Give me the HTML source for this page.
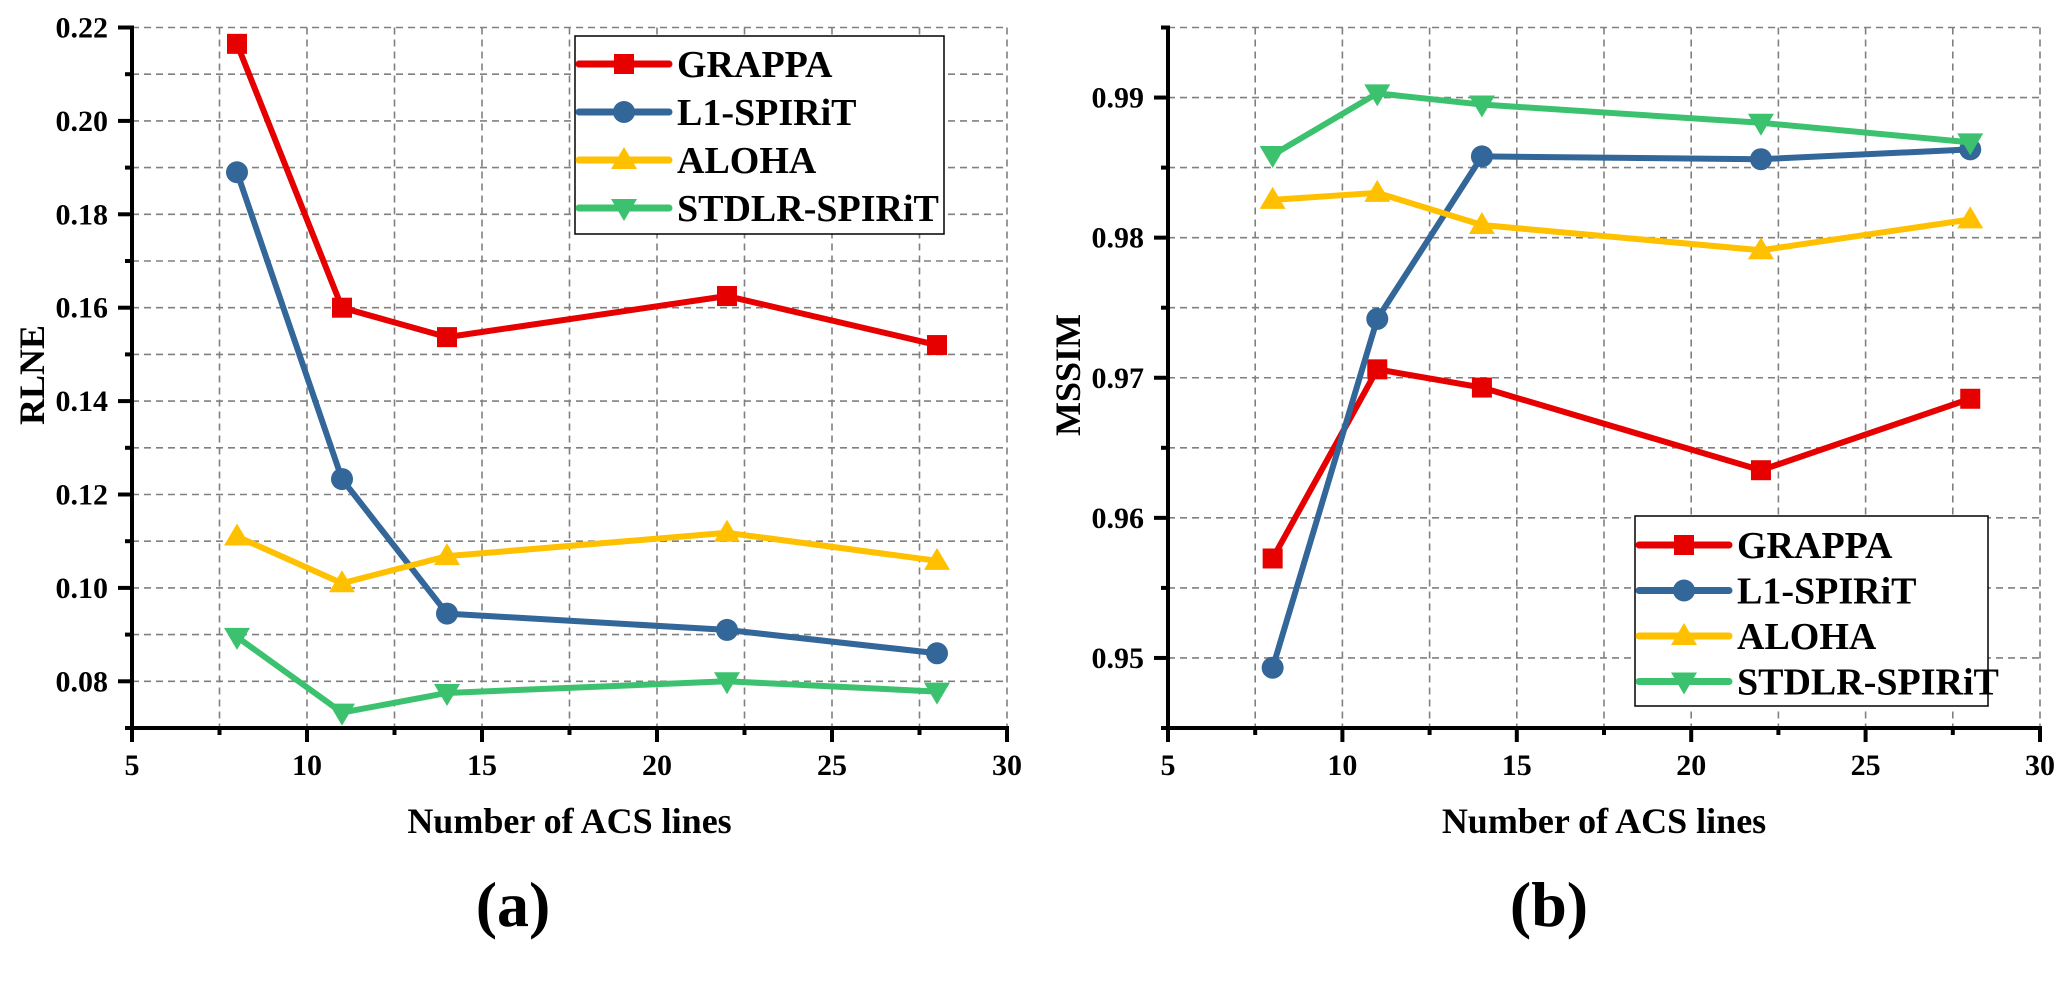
<!DOCTYPE html>
<html><head><meta charset="utf-8"><style>
html,body{margin:0;padding:0;background:#fff;}
svg{display:block;font-family:"Liberation Serif",serif;font-weight:bold;}
</style></head><body>
<svg id="svg" width="2072" height="981" viewBox="0 0 2072 981" xmlns="http://www.w3.org/2000/svg"></svg>
<script>
const xs = [8, 11, 14, 22, 28];
const seriesNames = ["GRAPPA", "L1-SPIRiT", "ALOHA", "STDLR-SPIRiT"];
const rlneGrappa = [0.2165, 0.160, 0.1537, 0.1625, 0.152];
const rlneL1 = [0.189, 0.1233, 0.0945, 0.091, 0.086];
const rlneAloha = [0.111, 0.101, 0.1068, 0.1118, 0.1058];
const rlneStdlr = [0.0895, 0.0733, 0.0775, 0.0800, 0.0778];
const ssimGrappa = [0.9571, 0.9706, 0.9693, 0.9634, 0.9685];
const ssimL1 = [0.9493, 0.9742, 0.9858, 0.9856, 0.9863];
const ssimAloha = [0.9827, 0.9832, 0.9809, 0.9791, 0.9813];
const ssimStdlr = [0.9859, 0.9903, 0.9895, 0.9882, 0.9868];
const xTicks = [5, 10, 15, 20, 25, 30];
const rlneTicks = [0.08, 0.10, 0.12, 0.14, 0.16, 0.18, 0.20, 0.22];
const ssimTicks = [0.95, 0.96, 0.97, 0.98, 0.99];

const NS = "http://www.w3.org/2000/svg";
const svg = document.getElementById('svg');
const colors = ["#e60000", "#336699", "#ffc000", "#3cc26e"];
const markers = ["square", "circle", "up", "down"];
function mk(tag, attrs, parent) {
  const e = document.createElementNS(NS, tag);
  for (const k in attrs) e.setAttribute(k, attrs[k]);
  (parent || svg).appendChild(e);
  return e;
}
function marker(g, type, x, y, c) {
  let e;
  if (type === "square") e = mk('rect', {x: x-10, y: y-10, width: 20, height: 20, fill: c}, g);
  else if (type === "circle") e = mk('circle', {cx: x, cy: y, r: 11, fill: c}, g);
  else if (type === "up") e = mk('polygon', {points: `${x},${y-13} ${x+13},${y+9} ${x-13},${y+9}`, fill: c}, g);
  else e = mk('polygon', {points: `${x},${y+13} ${x+13},${y-9} ${x-13},${y-9}`, fill: c}, g);
  
  
}
function chart(cfg) {
  const {x0, x1, yTop, yBot, dmin, dmax, ticks, minorStep, fmt, series, ytitle, panel, legend, name} = cfg;
  const g = mk('g', {});
  
  
  const X = v => x0 + (v - 5) / 25 * (x1 - x0);
  const Y = v => yBot - (v - dmin) / (dmax - dmin) * (yBot - yTop);
  const grid = mk('g', {stroke: '#808080', 'stroke-width': 1.6, 'stroke-dasharray': '7,5'}, g);
  
  
  for (let v = 7.5; v <= 30.01; v += 2.5) mk('line', {x1: X(v), x2: X(v), y1: yTop, y2: yBot}, grid);
  const nMinor = Math.round((dmax - dmin) / minorStep);
  for (let i = 1; i <= nMinor; i++) { const v = dmin + i * minorStep; mk('line', {x1: x0, x2: x1, y1: Y(v), y2: Y(v)}, grid); }
  const ax = mk('g', {stroke: '#000', 'stroke-width': 4}, g);
  
  
  mk('line', {x1: x0, x2: x0, y1: yTop - 2, y2: yBot + 2}, ax);
  mk('line', {x1: x0 - 2, x2: x1 + 2, y1: yBot, y2: yBot}, ax);
  for (let v = 5; v <= 30.01; v += 2.5) {
    const major = Math.abs(v % 5) < 0.01;
    mk('line', {x1: X(v), x2: X(v), y1: yBot, y2: yBot + (major ? 14 : 7)}, ax);
  }
  for (let i = 0; i <= nMinor; i++) {
    const v = dmin + i * minorStep;
    const major = ticks.some(t => Math.abs(t - v) < 1e-6);
    mk('line', {x1: x0, x2: x0 - (major ? 14 : 7), y1: Y(v), y2: Y(v)}, ax);
  }
  xTicks.forEach(t => {
    const e = mk('text', {x: X(t), y: yBot + 47, 'font-size': 30, 'text-anchor': 'middle'}, g);
    e.textContent = t;
    
    
  });
  ticks.forEach(t => {
    const e = mk('text', {x: x0 - 24, y: Y(t) + 10, 'font-size': 30, 'text-anchor': 'end'}, g);
    e.textContent = t.toFixed(fmt);
    
    
  });
  let e = mk('text', {x: (x0 + x1) / 2, y: 833, 'font-size': 36, 'text-anchor': 'middle'}, g);
  e.textContent = 'Number of ACS lines';
  
  
  e = mk('text', {x: 0, y: 0, 'font-size': 36, 'text-anchor': 'middle', transform: `translate(${x0 - 88},375) rotate(-90)`}, g);
  e.textContent = ytitle;
  
  
  e = mk('text', {x: x0 + 381, y: 926, 'font-size': 64, 'text-anchor': 'middle'}, g);
  e.textContent = panel;
  
  
  series.forEach((vals, si) => {
    const sg = mk('g', {}, g);
    
    
    const pts = vals.map((v, i) => X(xs[i]) + ',' + Y(v)).join(' ');
    const pl = mk('polyline', {points: pts, fill: 'none', stroke: colors[si], 'stroke-width': 6, 'stroke-linejoin': 'round'}, sg);
    
    
    vals.forEach((v, i) => marker(sg, markers[si], X(xs[i]), Y(v), colors[si]));
  });
  const lg = mk('g', {}, g);
  
  
  mk('rect', {x: legend.x, y: legend.y, width: legend.w, height: legend.h, fill: '#fff', stroke: '#000', 'stroke-width': 1.5}, lg);
  seriesNames.forEach((n, i) => {
    const le = mk('g', {}, lg);
    
    
    const cy = legend.y0 + i * legend.dy;
    mk('line', {x1: legend.x + 4, x2: legend.x + 94, y1: cy, y2: cy, stroke: colors[i], 'stroke-width': 7, 'stroke-linecap': 'round'}, le);
    marker(le, markers[i], legend.x + 49, cy, colors[i]);
    const t = mk('text', {x: legend.x + 102, y: cy + 13, 'font-size': 38}, le);
    t.textContent = n;
  });
}
chart({name: 'rlne-chart', x0: 132, x1: 1007, yTop: 27.5, yBot: 728, dmin: 0.07, dmax: 0.22, ticks: rlneTicks, minorStep: 0.01, fmt: 2,
  series: [rlneGrappa, rlneL1, rlneAloha, rlneStdlr], ytitle: 'RLNE', panel: '(a)',
  legend: {x: 575, y: 36, w: 369, h: 198, y0: 64, dy: 48}});
chart({name: 'mssim-chart', x0: 1168, x1: 2040, yTop: 27.5, yBot: 728, dmin: 0.945, dmax: 0.995, ticks: ssimTicks, minorStep: 0.005, fmt: 2,
  series: [ssimGrappa, ssimL1, ssimAloha, ssimStdlr], ytitle: 'MSSIM', panel: '(b)',
  legend: {x: 1635, y: 516, w: 353, h: 190, y0: 545, dy: 45.5}});
</script>
</body></html>
